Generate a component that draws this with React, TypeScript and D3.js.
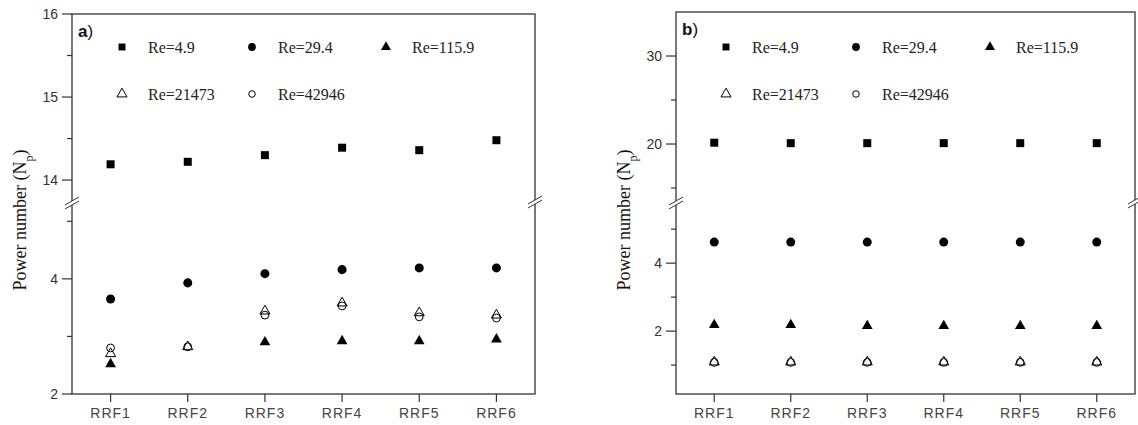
import React from 'react'
import { scaleLinear, scalePoint, symbol, symbolSquare, symbolCircle, symbolTriangle } from 'd3'

const categories = ['RRF1', 'RRF2', 'RRF3', 'RRF4', 'RRF5', 'RRF6']
const seriesNames = ['Re=4.9', 'Re=29.4', 'Re=115.9', 'Re=21473', 'Re=42946']

// panel a
const aRe49 = [14.19, 14.22, 14.3, 14.39, 14.36, 14.48]
const aRe294 = [3.65, 3.93, 4.09, 4.16, 4.19, 4.19]
const aRe1159 = [2.52, null, 2.9, 2.92, 2.92, 2.95]
const aRe21473 = [2.7, 2.82, 3.44, 3.58, 3.41, 3.37]
const aRe42946 = [2.8, 2.82, 3.37, 3.53, 3.34, 3.32]
const aUpperTicks = [14, 15, 16]
const aUpperMinor = [14.5, 15.5]
const aLowerTicks = [2, 4]
const aLowerMinor = [3, 5]

// panel b
const bRe49 = [20.15, 20.1, 20.1, 20.1, 20.1, 20.1]
const bRe294 = [4.62, 4.62, 4.62, 4.62, 4.62, 4.62]
const bRe1159 = [2.18, 2.18, 2.15, 2.15, 2.15, 2.15]
const bRe21473 = [1.09, 1.09, 1.09, 1.09, 1.09, 1.09]
const bRe42946 = [1.08, 1.08, 1.08, 1.08, 1.08, 1.08]
const bUpperTicks = [20, 30]
const bUpperMinor = [15, 25]
const bLowerTicks = [2, 4]
const bLowerMinor = [1, 3, 5]

const markers = [
    { type: symbolSquare, size: 64, fill: '#000', stroke: 'none' },
    { type: symbolCircle, size: 64, fill: '#000', stroke: 'none' },
    { type: symbolTriangle, size: 50, fill: '#000', stroke: 'none' },
    { type: symbolTriangle, size: 44, fill: 'none', stroke: '#000' },
    { type: symbolCircle, size: 48, fill: 'none', stroke: '#000' },
]
const legendMarkerSize = [48, 48, 44, 44, 34]

const AXIS = '#333'
const SANS = 'Arial, "Liberation Sans", sans-serif'
const SERIF = '"Times New Roman", "Liberation Serif", serif'

type PanelProps = {
    left: number, right: number, top: number, bottom: number,
    upperDomain: [number, number], lowerDomain: [number, number], breakVal: number,
    upperTicks: number[], upperMinor: number[], lowerTicks: number[], lowerMinor: number[],
    series: (number | null)[][], label: string,
}

const BreakMark = ({ x, y }: { x: number, y: number }) => (
    <g>
        <polygon points={`${x - 7},${y + 3} ${x + 7},${y - 5} ${x + 7},${y - 1} ${x - 7},${y + 7}`} fill="white" />
        <line x1={x - 7} y1={y + 3} x2={x + 7} y2={y - 5} stroke={AXIS} strokeWidth={1} />
        <line x1={x - 7} y1={y + 7} x2={x + 7} y2={y - 1} stroke={AXIS} strokeWidth={1} />
    </g>
)

const Panel = ({ left, right, top, bottom, upperDomain, lowerDomain, breakVal,
    upperTicks, upperMinor, lowerTicks, lowerMinor, series, label }: PanelProps) => {

    const breakY = 202
    const x = scalePoint().domain(categories).range([left, right]).padding(0.5)
    const yUp = scaleLinear().domain(upperDomain).range([breakY - 2, top])
    const yLo = scaleLinear().domain(lowerDomain).range([bottom, breakY + 2])
    const y = (v: number) => v >= breakVal ? yUp(v) : yLo(v)

    const legendCols = [50, 180, 314]
    const legendRows = [47, 94]
    const legendPos = [[0, 0], [1, 0], [2, 0], [0, 1], [1, 1]]

    return (
        <g>
            <rect x={left} y={top} width={right - left} height={bottom - top} fill="none" stroke={AXIS} strokeWidth={1.3} />

            {[...upperTicks.map(t => [yUp(t), t]), ...lowerTicks.map(t => [yLo(t), t])].map(([py, t], i) => (
                <g key={'t' + i}>
                    <line x1={left - 10} x2={left} y1={py} y2={py} stroke={AXIS} strokeWidth={1.2} />
                    <text x={left - 14} y={py} dy="0.35em" textAnchor="end" fontFamily={SANS} fontSize={14} fill={AXIS}>{t}</text>
                </g>
            ))}
            {[...upperMinor.map(t => yUp(t)), ...lowerMinor.map(t => yLo(t))].map((py, i) => (
                <line key={'m' + i} x1={left - 5} x2={left} y1={py} y2={py} stroke={AXIS} strokeWidth={1.2} />
            ))}

            {categories.map(c => (
                <g key={c}>
                    <line x1={x(c)} x2={x(c)} y1={bottom} y2={bottom + 8} stroke={AXIS} strokeWidth={1.2} />
                    <text x={x(c)} y={bottom + 24} textAnchor="middle" fontFamily={SANS} fontSize={14} letterSpacing={1} fill="#444">{c}</text>
                </g>
            ))}

            <BreakMark x={left} y={breakY} />
            <BreakMark x={right} y={breakY - 1} />

            {series.map((vals, si) => {
                const m = markers[si]
                const path = symbol().type(m.type).size(m.size)()
                return vals.map((v, i) => v == null ? null : (
                    <path key={si + '-' + i} d={path as string} transform={`translate(${x(categories[i])},${y(v)})`}
                        fill={m.fill} stroke={m.stroke} strokeWidth={1} />
                ))
            })}

            {seriesNames.map((n, si) => {
                const m = markers[si]
                const [c, r] = legendPos[si]
                const lx = left + legendCols[c]
                const ly = legendRows[r]
                const path = symbol().type(m.type).size(legendMarkerSize[si])()
                return (
                    <g key={n}>
                        <path d={path as string} transform={`translate(${lx},${ly})`} fill={m.fill} stroke={m.stroke} strokeWidth={1} />
                        <text x={lx + 26} y={ly} dy="0.35em" fontFamily={SERIF} fontSize={16} fill="#222">{n}</text>
                    </g>
                )
            })}

            <text x={left + 6} y={top + 23} fontFamily={SANS} fontSize={17} fill="#111">
                <tspan fontWeight="bold">{label}</tspan><tspan>)</tspan>
            </text>

            <text transform={`translate(${left - 46},${220}) rotate(-90)`} textAnchor="middle" fontFamily={SERIF} fontSize={18} fill="#111">
                Power number (N<tspan baselineShift="sub" fontSize={12}>p</tspan>)
            </text>
        </g>
    )
}

export default function App() {
    return (
        <div style={{ position: 'absolute', left: 0, top: 0 }}>
            <svg width={1138} height={425} style={{ display: 'block', background: 'white' }}>
                <Panel left={72} right={535} top={14} bottom={394}
                    upperDomain={[13.76, 16]} lowerDomain={[2, 5.3]} breakVal={10}
                    upperTicks={aUpperTicks} upperMinor={aUpperMinor} lowerTicks={aLowerTicks} lowerMinor={aLowerMinor}
                    series={[aRe49, aRe294, aRe1159, aRe21473, aRe42946]} label="a" />
                <Panel left={676} right={1135} top={12} bottom={394}
                    upperDomain={[13.64, 35]} lowerDomain={[0.15, 5.74]} breakVal={10}
                    upperTicks={bUpperTicks} upperMinor={bUpperMinor} lowerTicks={bLowerTicks} lowerMinor={bLowerMinor}
                    series={[bRe49, bRe294, bRe1159, bRe21473, bRe42946]} label="b" />
            </svg>
        </div>
    )
}
